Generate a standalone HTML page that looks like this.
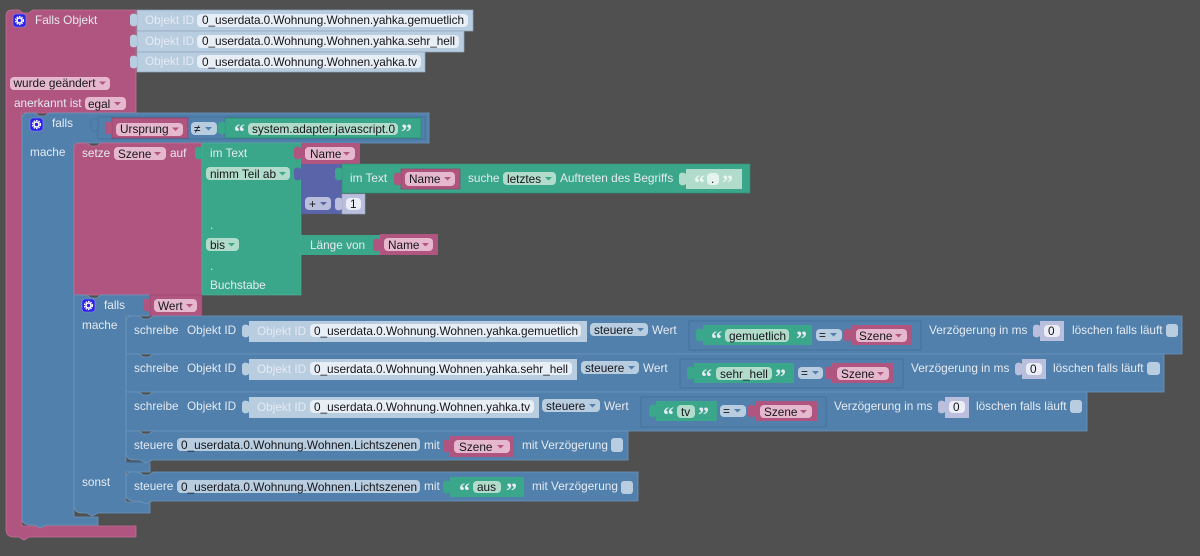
<!DOCTYPE html>
<html><head><meta charset="utf-8"><style>
html,body{margin:0;padding:0;background:#505050;width:1200px;height:556px;overflow:hidden}
svg{display:block}
text{font-family:"Liberation Sans",sans-serif;font-size:11.8px;fill:#e6eaf2}
.d{fill:#15151a}
.q{font-family:"Liberation Serif",serif;font-size:22px;font-weight:bold}
</style></head><body>
<svg width="1200" height="556" viewBox="0 0 1200 556" xmlns="http://www.w3.org/2000/svg">
<defs>
<path id="t" d="M0 5 C-2 3 -7 3 -7 7 V13 C-7 17 -2 17 0 15 Z"/>
<path id="a" d="M0 0 H7 L3.5 3.5 Z"/>
<g id="i"><rect width="13" height="13" rx="3" fill="#2a22e6" stroke="#8d8df0" stroke-width=".6"/><circle cx="6.5" cy="6.5" r="4" fill="none" stroke="#fff" stroke-width="1.2" stroke-dasharray="1.6 1"/><circle cx="6.5" cy="6.5" r="2.5" fill="none" stroke="#fff" stroke-width="1.6"/></g>
</defs>
<rect width="1200" height="556" fill="#505050"/>

<!-- pink outer -->
<path d="M6 16 Q6 10 12 10 H19 L23 13 H29 L33 10 H136 V113 H22 V526 H136 V537 H29 L24 540 L19 537 H14 Q6 537 6 529 Z" fill="#b0557f" stroke="#bf6f95" stroke-width=".8"/>
<use href="#i" x="13" y="14"/>
<text x="35" y="24">Falls Objekt</text>

<!-- Objekt ID top -->
<g fill="#b9cde0" stroke="#8fa6bd" stroke-width=".7">
<rect x="137" y="10" width="336" height="21"/><rect x="137" y="31" width="327" height="21"/><rect x="137" y="52" width="288" height="20"/>
</g>
<g fill="#b9cde0"><use href="#t" x="137" y="10"/><use href="#t" x="137" y="31"/><use href="#t" x="137" y="52"/></g>
<text x="145" y="24">Objekt ID</text><text x="145" y="45">Objekt ID</text><text x="145" y="65">Objekt ID</text>
<g fill="#e8eef5"><rect x="197" y="14" width="271" height="13" rx="4"/><rect x="197" y="35" width="262" height="13" rx="4"/><rect x="197" y="55" width="224" height="13" rx="4"/></g>
<text class="d" x="202" y="24" textLength="262">0_userdata.0.Wohnung.Wohnen.yahka.gemuetlich</text>
<text class="d" x="202" y="45" textLength="253">0_userdata.0.Wohnung.Wohnen.yahka.sehr_hell</text>
<text class="d" x="202" y="66" textLength="215">0_userdata.0.Wohnung.Wohnen.yahka.tv</text>

<rect x="10" y="77" width="100" height="13" rx="4" fill="#e6b8ce"/>
<text class="d" x="13.500" y="87">wurde geändert</text><use href="#a" x="99" y="81.500" fill="#b0557f"/>
<text x="14" y="107">anerkannt ist</text>
<rect x="85" y="97" width="41" height="13" rx="4" fill="#e6b8ce"/>
<text class="d" x="88" y="108">egal</text><use href="#a" x="114" y="102" fill="#b0557f"/>

<!-- blue falls -->
<path d="M22 119 Q22 113 28 113 H35 L39 116 H45 L49 113 H429 V143 H74 V517 H98 V525 H46 L40 528 L35 525 H30 Q22 525 22 517 Z" fill="#5080ab" stroke="#6c97bd" stroke-width=".8"/>
<use href="#i" x="30" y="118"/>
<text x="52" y="127">falls</text>
<text x="30" y="156">mache</text>
<rect x="98" y="117" width="327" height="22" fill="none" stroke="#45729b" stroke-width="1"/>
<use href="#t" x="98" y="115" fill="#5080ab" stroke="#45729b" stroke-width=".6"/>
<rect x="112" y="118" width="76" height="20" fill="#b0557f" stroke="#8f3f66" stroke-width=".7"/>
<use href="#t" x="112" y="118" fill="#b0557f"/>
<rect x="116" y="123" width="67" height="13" rx="4" fill="#e6b8ce"/>
<text class="d" x="120" y="133">Ursprung</text><use href="#a" x="172" y="127.500" fill="#b0557f"/>
<rect x="191" y="122" width="26" height="13" rx="4" fill="#b9cde0"/>
<text class="d" x="194" y="133">≠</text><use href="#a" x="205" y="127" fill="#5080ab"/>
<rect x="225" y="118" width="196" height="20" fill="#3aa68a" stroke="#2b8a70" stroke-width=".7"/>
<use href="#t" x="225" y="118" fill="#3aa68a"/>
<text class="q" x="234" y="139">“</text><text class="q" x="401" y="139">”</text>
<rect x="248" y="123" width="150" height="12" rx="4" fill="#b1dccb"/>
<text class="d" x="252" y="133" textLength="143">system.adapter.javascript.0</text>

<!-- setze -->
<path d="M74 149 Q74 143 80 143 H87 L91 146 H97 L101 143 H202 V295 H74 Z" fill="#b0557f" stroke="#bf6f95" stroke-width=".8"/>
<text x="82" y="157">setze</text>
<rect x="114" y="147" width="52" height="13" rx="4" fill="#e6b8ce"/>
<text class="d" x="118" y="158">Szene</text><use href="#a" x="154" y="152" fill="#b0557f"/>
<text x="170" y="157">auf</text>

<!-- green substring -->
<rect x="202" y="143" width="99" height="152" fill="#3aa68a" stroke="#54b49b" stroke-width=".6"/>
<use href="#t" x="202" y="143" fill="#3aa68a"/>
<text x="210" y="157">im Text</text>
<rect x="206" y="167" width="84" height="13" rx="4" fill="#b1dccb"/>
<text class="d" x="210" y="178">nimm Teil ab</text><use href="#a" x="279" y="172" fill="#3aa68a"/>
<text x="210" y="229">.</text>
<rect x="206" y="238" width="33" height="13" rx="4" fill="#b1dccb"/>
<text class="d" x="210" y="249">bis</text><use href="#a" x="228" y="243" fill="#3aa68a"/>
<text x="210" y="270">.</text>
<text x="210" y="289">Buchstabe</text>

<rect x="301" y="143" width="59" height="21" fill="#b0557f"/>
<use href="#t" x="301" y="143" fill="#b0557f"/>
<rect x="305" y="147" width="50" height="13" rx="4" fill="#e6b8ce"/>
<text class="d" x="310" y="158">Name</text><use href="#a" x="343" y="152" fill="#b0557f"/>

<rect x="301" y="164" width="41" height="50" fill="#5a64a8"/>
<use href="#t" x="301" y="164" fill="#5a64a8"/>
<rect x="305" y="197" width="26" height="13" rx="4" fill="#b9bfdc"/>
<text class="d" x="309" y="208">+</text><use href="#a" x="320" y="202" fill="#5a64a8"/>

<rect x="342" y="164" width="408" height="29" fill="#3aa68a" stroke="#2f9078" stroke-width=".6"/>
<use href="#t" x="342" y="164" fill="#3aa68a"/>
<text x="350" y="182">im Text</text>
<rect x="401" y="169" width="59" height="20" fill="#b0557f" stroke="#8f3f66" stroke-width=".6"/>
<use href="#t" x="401" y="169" fill="#b0557f"/>
<rect x="405" y="172" width="50" height="14" rx="4" fill="#e6b8ce"/>
<text class="d" x="409" y="183">Name</text><use href="#a" x="444" y="177" fill="#b0557f"/>
<text x="468" y="182">suche</text>
<rect x="503" y="172" width="53" height="13" rx="4" fill="#b1dccb"/>
<text class="d" x="507" y="183">letztes</text><use href="#a" x="545" y="177" fill="#3aa68a"/>
<text x="560" y="182">Auftreten des Begriffs</text>
<rect x="686" y="169" width="56" height="20" fill="#b1dccb"/>
<use href="#t" x="686" y="169" fill="#b1dccb"/>
<text class="q" x="694" y="190" style="fill:#eaf6f1">“</text><text class="q" x="722" y="190" style="fill:#eaf6f1">”</text>
<rect x="707" y="173" width="12" height="12" rx="4" fill="#e4f3ed"/>
<text class="d" x="711" y="183">.</text>

<rect x="342" y="194" width="23" height="20" fill="#b9bfdc" stroke="#9aa0c4" stroke-width=".6"/>
<use href="#t" x="342" y="194" fill="#b9bfdc"/>
<rect x="346" y="198" width="15" height="12" rx="4" fill="#eceef7"/>
<text class="d" x="350" y="208">1</text>

<rect x="301" y="235" width="79" height="20" fill="#3aa68a"/>
<use href="#t" x="301" y="235" fill="#3aa68a"/>
<text x="310" y="249">Länge von</text>
<rect x="380" y="234" width="58" height="21" fill="#b0557f"/>
<use href="#t" x="380" y="235" fill="#b0557f"/>
<rect x="384" y="238" width="49" height="13" rx="4" fill="#e6b8ce"/>
<text class="d" x="388" y="249">Name</text><use href="#a" x="422" y="243" fill="#b0557f"/>

<!-- inner falls -->
<path d="M74 295 H87 L91 298 H97 L101 295 H150 V316 H126 V462 H150 V472 H126 V502 H150 V513 H98 L92 516 L87 513 H82 Q74 513 74 505 Z" fill="#5080ab" stroke="#6c97bd" stroke-width=".8"/>
<path d="M126 462 H150" stroke="#45658a" stroke-width="1.200"/>
<use href="#i" x="82" y="299"/>
<text x="104" y="309">falls</text>
<text x="82" y="329">mache</text>
<text x="82" y="486">sonst</text>
<rect x="150" y="295" width="52" height="21" fill="#b0557f" stroke="#8f3f66" stroke-width=".6"/>
<use href="#t" x="150" y="295" fill="#b0557f"/>
<rect x="154" y="299" width="43" height="13" rx="4" fill="#e6b8ce"/>
<text class="d" x="158" y="310">Wert</text><use href="#a" x="186" y="304" fill="#b0557f"/>

<!-- row blocks -->
<g fill="#5080ab" stroke="#6c97bd" stroke-width=".8">
<path d="M126 322 Q126 316 132 316 H139 L143 319 H149 L153 316 H1182 V354 H126 Z"/>
<path d="M126 354 H139 L143 357 H149 L153 354 H1164 V392 H126 Z"/>
<path d="M126 392 H139 L143 395 H149 L153 392 H1087 V431 H126 Z"/>
<path d="M126 431 H139 L143 434 H149 L153 431 H628 V460 H152 L146 463 L140 460 H134 Q126 460 126 452 Z"/>
<path d="M126 478 Q126 472 132 472 H139 L143 475 H149 L153 472 H638 V501 H152 L146 504 L140 501 H134 Q126 501 126 493 Z"/>
</g>

<!-- row 1 -->
<text x="134" y="334">schreibe</text><text x="187" y="334">Objekt ID</text>
<rect x="249" y="321" width="338" height="21" fill="#b9cde0"/><use href="#t" x="249" y="321" fill="#b9cde0"/>
<text x="257" y="335">Objekt ID</text>
<rect x="310" y="324" width="271" height="13" rx="4" fill="#e8eef5"/>
<text class="d" x="314" y="335" textLength="264">0_userdata.0.Wohnung.Wohnen.yahka.gemuetlich</text>
<rect x="590" y="323" width="58" height="13" rx="4" fill="#b9cde0"/>
<text class="d" x="594" y="334">steuere</text><use href="#a" x="637" y="328" fill="#5080ab"/>
<text x="652" y="334">Wert</text>
<rect x="689" y="321" width="232" height="29" fill="none" stroke="#45729b"/>
<rect x="703" y="325" width="109" height="20" fill="#3aa68a"/><use href="#t" x="703" y="325" fill="#3aa68a"/>
<text class="q" x="711" y="346">“</text><text class="q" x="796" y="346">”</text>
<rect x="725" y="329" width="64" height="13" rx="4" fill="#b1dccb"/>
<text class="d" x="729" y="340">gemuetlich</text>
<rect x="816" y="329" width="26" height="12" rx="4" fill="#b9cde0"/>
<text class="d" x="819" y="339">=</text><use href="#a" x="830" y="333" fill="#5080ab"/>
<rect x="851" y="325" width="61" height="20" fill="#b0557f"/><use href="#t" x="851" y="325" fill="#b0557f"/>
<rect x="856" y="329" width="51" height="13" rx="4" fill="#e6b8ce"/>
<text class="d" x="859" y="340">Szene</text><use href="#a" x="895" y="334" fill="#b0557f"/>
<text x="929" y="334">Verzögerung in ms</text>
<rect x="1040" y="321" width="24" height="20" fill="#b9bfdc"/><use href="#t" x="1040" y="321" fill="#b9bfdc"/>
<rect x="1044" y="325" width="16" height="12" rx="4" fill="#eceef7"/>
<text class="d" x="1048" y="335">0</text>
<text x="1072" y="334">löschen falls läuft</text>
<rect x="1166" y="324" width="12" height="13" rx="3" fill="#b9cde0"/>

<!-- row 2 -->
<text x="134" y="372">schreibe</text><text x="187" y="372">Objekt ID</text>
<rect x="249" y="359" width="328" height="21" fill="#b9cde0"/><use href="#t" x="249" y="359" fill="#b9cde0"/>
<text x="257" y="373">Objekt ID</text>
<rect x="310" y="362" width="262" height="13" rx="4" fill="#e8eef5"/>
<text class="d" x="314" y="373" textLength="254">0_userdata.0.Wohnung.Wohnen.yahka.sehr_hell</text>
<rect x="581" y="361" width="58" height="13" rx="4" fill="#b9cde0"/>
<text class="d" x="585" y="372">steuere</text><use href="#a" x="628" y="366" fill="#5080ab"/>
<text x="643" y="372">Wert</text>
<rect x="680" y="359" width="223" height="29" fill="none" stroke="#45729b"/>
<rect x="694" y="363" width="100" height="20" fill="#3aa68a"/><use href="#t" x="694" y="363" fill="#3aa68a"/>
<text class="q" x="701" y="384">“</text><text class="q" x="775" y="384">”</text>
<rect x="716" y="367" width="56" height="13" rx="4" fill="#b1dccb"/>
<text class="d" x="720" y="378">sehr_hell</text>
<rect x="798" y="367" width="25" height="12" rx="4" fill="#b9cde0"/>
<text class="d" x="801" y="377">=</text><use href="#a" x="812" y="371" fill="#5080ab"/>
<rect x="832" y="363" width="61" height="20" fill="#b0557f"/><use href="#t" x="832" y="363" fill="#b0557f"/>
<rect x="837" y="367" width="52" height="13" rx="4" fill="#e6b8ce"/>
<text class="d" x="841" y="378">Szene</text><use href="#a" x="877" y="372" fill="#b0557f"/>
<text x="911" y="372">Verzögerung in ms</text>
<rect x="1022" y="359" width="24" height="20" fill="#b9bfdc"/><use href="#t" x="1022" y="359" fill="#b9bfdc"/>
<rect x="1026" y="363" width="16" height="12" rx="4" fill="#eceef7"/>
<text class="d" x="1030" y="373">0</text>
<text x="1053" y="372">löschen falls läuft</text>
<rect x="1147" y="362" width="13" height="13" rx="3" fill="#b9cde0"/>

<!-- row 3 -->
<text x="134" y="410">schreibe</text><text x="187" y="410">Objekt ID</text>
<rect x="249" y="397" width="290" height="21" fill="#b9cde0"/><use href="#t" x="249" y="397" fill="#b9cde0"/>
<text x="257" y="411">Objekt ID</text>
<rect x="310" y="400" width="224" height="13" rx="4" fill="#e8eef5"/>
<text class="d" x="314" y="411" textLength="216">0_userdata.0.Wohnung.Wohnen.yahka.tv</text>
<rect x="542" y="399" width="58" height="13" rx="4" fill="#b9cde0"/>
<text class="d" x="546" y="410">steuere</text><use href="#a" x="589" y="404" fill="#5080ab"/>
<text x="604" y="410">Wert</text>
<rect x="641" y="397" width="185" height="30" fill="none" stroke="#45729b"/>
<rect x="656" y="401" width="61" height="20" fill="#3aa68a"/><use href="#t" x="656" y="401" fill="#3aa68a"/>
<text class="q" x="663" y="422">“</text><text class="q" x="698" y="422">”</text>
<rect x="677" y="405" width="18" height="13" rx="4" fill="#b1dccb"/>
<text class="d" x="681" y="416">tv</text>
<rect x="720" y="405" width="26" height="12" rx="4" fill="#b9cde0"/>
<text class="d" x="723" y="415">=</text><use href="#a" x="734" y="409" fill="#5080ab"/>
<rect x="755" y="401" width="62" height="20" fill="#b0557f"/><use href="#t" x="755" y="401" fill="#b0557f"/>
<rect x="760" y="405" width="52" height="13" rx="4" fill="#e6b8ce"/>
<text class="d" x="764" y="416">Szene</text><use href="#a" x="800" y="410" fill="#b0557f"/>
<text x="834" y="410">Verzögerung in ms</text>
<rect x="945" y="397" width="24" height="21" fill="#b9bfdc"/><use href="#t" x="945" y="397" fill="#b9bfdc"/>
<rect x="949" y="401" width="16" height="12" rx="4" fill="#eceef7"/>
<text class="d" x="953" y="411">0</text>
<text x="976" y="410">löschen falls läuft</text>
<rect x="1070" y="400" width="12" height="13" rx="3" fill="#b9cde0"/>

<!-- steuere 1 -->
<text x="134" y="449">steuere</text>
<rect x="177" y="438" width="243" height="13" rx="4" fill="#b9cde0"/>
<text class="d" x="181" y="449" textLength="236">0_userdata.0.Wohnung.Wohnen.Lichtszenen</text>
<text x="424" y="449">mit</text>
<rect x="450" y="436" width="64" height="21" fill="#b0557f"/><use href="#t" x="450" y="436" fill="#b0557f"/>
<rect x="454" y="440" width="56" height="13" rx="4" fill="#e6b8ce"/>
<text class="d" x="459" y="451">Szene</text><use href="#a" x="497" y="445" fill="#b0557f"/>
<text x="522" y="449">mit Verzögerung</text>
<rect x="611" y="438" width="12" height="14" rx="3" fill="#b9cde0"/>

<!-- steuere 2 -->
<text x="134" y="490">steuere</text>
<rect x="177" y="480" width="243" height="13" rx="4" fill="#b9cde0"/>
<text class="d" x="181" y="491" textLength="236">0_userdata.0.Wohnung.Wohnen.Lichtszenen</text>
<text x="424" y="490">mit</text>
<rect x="450" y="477" width="74" height="20" fill="#3aa68a"/><use href="#t" x="450" y="477" fill="#3aa68a"/>
<text class="q" x="459" y="498">“</text><text class="q" x="506" y="498">”</text>
<rect x="473" y="481" width="28" height="12" rx="4" fill="#b1dccb"/>
<text class="d" x="477" y="491">aus</text>
<text x="532" y="490">mit Verzögerung</text>
<rect x="621" y="481" width="12" height="13" rx="3" fill="#b9cde0"/>
</svg>
</body></html>
